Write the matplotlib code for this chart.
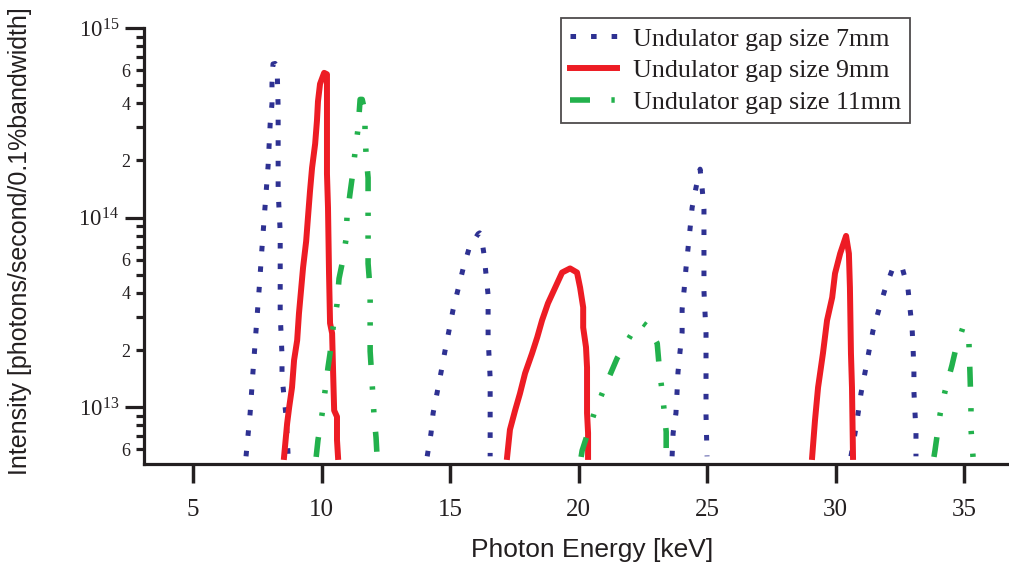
import numpy as np
import matplotlib
matplotlib.use("Agg")
import matplotlib.pyplot as plt
from matplotlib.ticker import FixedLocator, FixedFormatter

plt.rcParams['mathtext.fontset'] = 'custom'
plt.rcParams['mathtext.rm'] = 'Liberation Serif'
plt.rcParams['mathtext.it'] = 'Liberation Serif:italic'
plt.rcParams['lines.scale_dashes'] = False

INK = '#231f20'

# ---- spectra: one list per harmonic, energy in keV, flux in photons/s/0.1%bw ----
gap7_energy = [
    [7.06, 7.22, 7.33, 7.45, 7.57, 7.68, 7.80, 7.92, 8.00, 8.07, 8.07, 8.11, 8.19,
     8.27, 8.31, 8.31, 8.31, 8.39, 8.39, 8.39, 8.46, 8.46, 8.54, 8.62, 8.70],
    [14.11, 14.26, 14.34, 14.49, 14.65, 14.80, 14.96, 15.12, 15.31, 15.51, 15.74, 16.09,
     16.15, 16.21, 16.32, 16.40, 16.48, 16.48, 16.56, 16.56, 16.56],
    [23.64, 23.68, 23.79, 23.83, 23.87, 23.95, 24.03, 24.03, 24.11, 24.18, 24.26, 24.34,
     24.42, 24.58, 24.73, 24.81, 24.88, 24.88, 24.88, 24.96, 24.96, 24.96, 25.00],
    [30.60, 30.76, 30.88, 30.99, 31.15, 31.30, 31.46, 31.69, 31.93, 32.24, 32.43, 32.59,
     32.82, 32.90, 32.98, 33.02, 33.05, 33.05, 33.13, 33.13],
]
gap7_flux = [
    [5.5e12, 9.3e12, 1.53e13, 2.54e13, 4.18e13, 6.87e13, 1.14e14, 1.88e14, 3.13e14, 3.98e14,
     5.07e14, 6.46e14, 6.5e14, 6.2e14, 3.8e14, 2.3e14, 1.38e14, 8.4e13, 5.1e13, 3.1e13,
     1.88e13, 1.46e13, 1.13e13, 8.9e12, 5.5e12],
    [5.5e12, 7.3e12, 9.3e12, 1.18e13, 1.53e13, 1.97e13, 2.54e13, 3.28e13, 4.18e13, 5.39e13,
     6.87e13, 8.2e13, 8.3e13, 8.1e13, 6.4e13, 5.0e13, 3.9e13, 2.33e13, 1.42e13, 8.7e12, 5.5e12],
    [5.5e12, 7.3e12, 9.3e12, 1.18e13, 1.53e13, 1.97e13, 2.48e13, 3.28e13, 4.18e13, 5.39e13,
     6.87e13, 8.76e13, 1.13e14, 1.46e14, 1.8e14, 1.42e14, 1.11e14, 6.7e13, 4.1e13, 2.45e13,
     1.51e13, 9.1e12, 5.5e12],
    [5.5e12, 7.3e12, 9.3e12, 1.18e13, 1.53e13, 1.97e13, 2.54e13, 3.28e13, 4.2e13, 5.46e13,
     5.5e13, 5.46e13, 4.2e13, 3.3e13, 2.6e13, 2.0e13, 1.55e13, 1.21e13, 7.4e12, 5.5e12],
]

gap9_energy = [
    [8.54, 8.66, 8.74, 8.85, 8.93, 9.05, 9.12, 9.20, 9.28, 9.40, 9.47, 9.55, 9.63, 9.75,
     9.82, 9.86, 9.94, 10.10, 10.21, 10.21, 10.21, 10.21, 10.25, 10.29, 10.33, 10.41,
     10.45, 10.49, 10.60, 10.60, 10.64],
    [17.22, 17.33, 17.53, 17.72, 17.92, 18.19, 18.39, 18.58, 18.81, 19.09, 19.36, 19.67,
     19.94, 20.06, 20.18, 20.18, 20.29, 20.33, 20.33, 20.37, 20.37],
    [29.09, 29.20, 29.32, 29.51, 29.67, 29.87, 29.98, 30.18, 30.41, 30.52, 30.56, 30.60,
     30.64, 30.68],
]
gap9_flux = [
    [5.46e12, 8.2e12, 1.0e13, 1.27e13, 1.77e13, 2.25e13, 3.12e13, 4.12e13, 5.45e13, 7.5e13,
     1.0e14, 1.38e14, 1.83e14, 2.45e14, 3.24e14, 4.1e14, 5.07e14, 5.8e14, 5.7e14, 4.65e14,
     3.13e14, 1.7e14, 1.13e14, 5.07e13, 2.77e13, 2.45e13, 1.51e13, 9.6e12, 8.9e12, 6.7e12,
     5.46e12],
    [5.46e12, 7.6e12, 9.6e12, 1.18e13, 1.51e13, 1.92e13, 2.33e13, 2.87e13, 3.53e13, 4.27e13,
     5.13e13, 5.39e13, 5.13e13, 4.27e13, 3.36e13, 2.63e13, 2.07e13, 1.62e13, 9.3e12, 7.3e12,
     5.46e12],
    [5.46e12, 8.5e12, 1.27e13, 1.92e13, 2.87e13, 3.79e13, 5.07e13, 6.46e13, 8.0e13, 6.46e13,
     4.27e13, 1.92e13, 1.27e13, 5.46e12],
]

gap11_energy = [
    [9.79, 9.86, 10.02, 10.14, 10.25, 10.33, 10.45, 10.60, 10.68, 10.80, 10.95, 10.99,
     11.11, 11.19, 11.30, 11.42, 11.50, 11.58, 11.69, 11.69, 11.73, 11.81, 11.81, 11.81,
     11.81, 11.89, 11.89, 11.89, 11.96, 12.04, 12.12, 12.16],
    [20.10, 20.14, 20.60, 20.95, 21.50, 22.19, 22.47, 22.70, 23.06, 23.14, 23.29, 23.41, 23.41],
    [33.83, 33.87, 34.07, 34.26, 34.53, 34.65, 34.96, 35.19, 35.23, 35.27, 35.27, 35.35],
]
gap11_flux = [
    [5.46e12, 6.7e12, 9.2e12, 1.23e13, 1.62e13, 1.92e13, 2.63e13, 3.48e13, 4.77e13, 5.72e13,
     7.65e13, 1.01e14, 1.35e14, 1.62e14, 2.2e14, 2.95e14, 4.2e14, 4.2e14, 3.6e14, 2.86e14,
     2.17e14, 1.62e14, 1.23e14, 7.65e13, 5.72e13, 4.13e13, 2.63e13, 1.97e13, 1.39e13,
     9.1e12, 6.9e12, 5.46e12],
    [5.46e12, 5.9e12, 9.2e12, 1.21e13, 1.81e13, 2.6e13, 2.8e13, 2.65e13, 2.17e13, 1.62e13,
     1.09e13, 7.4e12, 5.46e12],
    [5.46e12, 5.9e12, 9.2e12, 1.21e13, 1.66e13, 1.95e13, 2.64e13, 2.2e13, 1.53e13, 1.01e13,
     7.7e12, 5.46e12],
]

series_labels = ['Undulator gap size 7mm', 'Undulator gap size 9mm', 'Undulator gap size 11mm']

x_ticks = [5, 10, 15, 20, 25, 30, 35]
y_major = [1e13, 1e14, 1e15]
y_major_labels = [r'$\mathregular{10^{13}}$', r'$\mathregular{10^{14}}$', r'$\mathregular{10^{15}}$']
y_minor = [6e12, 7e12, 8e12, 9e12] + [m * d for d in (1e13, 1e14) for m in range(2, 10)]
y_minor_labels = ['6', '', '', ''] + [('%d' % m if m in (2, 4, 6) else '')
                                      for d in (1e13, 1e14) for m in range(2, 10)]


def joined(energies, fluxes):
    """Chain the harmonics into one path, broken by NaN gaps."""
    xs, ys = [], []
    for e, f in zip(energies, fluxes):
        xs += list(e) + [np.nan]
        ys += list(f) + [np.nan]
    return np.array(xs), np.array(ys)


fig = plt.figure(figsize=(10.09, 5.65), dpi=100)
ax = fig.add_axes([144 / 1009, 1 - 464 / 565, 865 / 1009, 436 / 565])

styles = [
    dict(color='#2e3192', lw=3.6, linestyle=(0, (4.0, 10.8)), dash_capstyle='butt'),
    dict(color='#ed1c24', lw=4.3, linestyle='-', solid_joinstyle='round'),
    dict(color='#22b14c', lw=4.0, linestyle=(0, (14.4, 15.4, 2.4, 14.0, 2.4, 14.0)),
         dash_capstyle='butt'),
]
data = [(gap7_energy, gap7_flux), (gap9_energy, gap9_flux), (gap11_energy, gap11_flux)]

handles = []
for (en, fl), st, lab in zip(data, styles, series_labels):
    xs, ys = joined(en, fl)
    ln, = ax.plot(xs, ys, label=lab, **st)
    handles.append(ln)

ax.set_yscale('log')
ax.set_xlim(3.09, 36.75)
ax.set_ylim(5.01e12, 1e15)

for side in ('top', 'right'):
    ax.spines[side].set_visible(False)
for side in ('left', 'bottom'):
    ax.spines[side].set_linewidth(2.3)
    ax.spines[side].set_color(INK)

ax.xaxis.set_major_locator(FixedLocator(x_ticks))
ax.xaxis.set_minor_locator(FixedLocator([]))
ax.yaxis.set_major_locator(FixedLocator(y_major))
ax.yaxis.set_major_formatter(FixedFormatter(y_major_labels))
ax.yaxis.set_minor_locator(FixedLocator(y_minor))
ax.yaxis.set_minor_formatter(FixedFormatter(y_minor_labels))

ax.tick_params(axis='x', which='major', direction='out', length=13.7, width=2.5,
               color=INK, labelcolor=INK, labelsize=18, pad=11.5)
ax.tick_params(axis='y', which='major', direction='out', length=13.7, width=2.3,
               color=INK, labelcolor=INK, labelsize=16.5, pad=4.3)
ax.tick_params(axis='y', which='minor', direction='out', length=6.0, width=2.3,
               color=INK, labelcolor=INK, labelsize=13, pad=3.6)
for lab in ax.get_xticklabels() + ax.get_yticklabels() + ax.get_yticklabels(minor=True):
    lab.set_family('Liberation Serif')

ax.set_xlabel('Photon Energy [keV]', family='Liberation Sans', fontsize=19, color=INK)
ax.xaxis.set_label_coords(0.518, -0.197)
ax.xaxis.label.set_va('center')
ax.set_ylabel('Intensity [photons/second/0.1%bandwidth]', family='Liberation Sans',
              fontsize=18, color=INK)
ax.yaxis.set_label_coords(-0.143, 0.511)
ax.yaxis.label.set_va('center')

leg = ax.legend(handles=handles, loc='upper left',
                bbox_to_anchor=(561 / 1009, 1 - 18 / 565), bbox_transform=fig.transFigure,
                prop={'family': 'Liberation Serif', 'size': 18.7}, frameon=True,
                fancybox=False, handlelength=1.8, handletextpad=0.6,
                labelspacing=0.33, borderpad=0.36, borderaxespad=0)
leg.get_frame().set_edgecolor(INK)
leg.get_frame().set_linewidth(1.3)
for t in leg.get_texts():
    t.set_color(INK)

fig.savefig('out.png', dpi=100)
